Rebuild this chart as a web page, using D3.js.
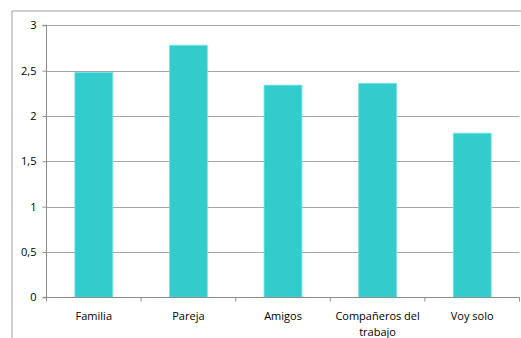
<!DOCTYPE html>
<html>
<head>
<meta charset="utf-8">
<script src="https://cdn.jsdelivr.net/npm/d3@7"></script>
<style>
  html, body { margin: 0; padding: 0; background: #fff; }
  svg { display: block; }
  text { font-family: "Open Sans", "Liberation Sans", sans-serif; fill: #000; }
</style>
</head>
<body>
<svg id="chart" width="521" height="338"></svg>
<script>
// Categories and values of the bar series
const categories = ["Familia", "Pareja", "Amigos", "Compañeros del trabajo", "Voy solo"];
const values = [2.48, 2.78, 2.34, 2.36, 1.81];
// Y axis ticks and their labels (decimal comma)
const yTicks = [0, 0.5, 1, 1.5, 2, 2.5, 3];
const yTickLabels = ["0", "0,5", "1", "1,5", "2", "2,5", "3"];
// Category labels split into lines
const categoryLines = [["Familia"], ["Pareja"], ["Amigos"], ["Compañeros del", "trabajo"], ["Voy solo"]];

const svg = d3.select("#chart");
const plotLeft = 46.5, plotRight = 519.5, plotTop = 25.3, plotBottom = 297.3;

// Outer frame (top and left edges visible)
svg.append("line").attr("x1", 12).attr("x2", 521).attr("y1", 11).attr("y2", 11)
  .attr("stroke", "#bfbfbf").attr("stroke-width", 1.5);
svg.append("line").attr("x1", 12).attr("x2", 12).attr("y1", 11).attr("y2", 338)
  .attr("stroke", "#bfbfbf").attr("stroke-width", 1.5);

const x = d3.scaleBand().domain(categories).range([plotLeft, plotRight]).paddingInner(0.6).paddingOuter(0.3);
const xOuter = d3.scaleBand().domain(categories).range([plotLeft, plotRight]);
const y = d3.scaleLinear().domain([0, 3]).range([plotBottom, plotTop]);

// Horizontal gridlines
svg.append("g").selectAll("line").data(yTicks.filter(d => d > 0)).join("line")
  .attr("x1", plotLeft).attr("x2", plotRight)
  .attr("y1", d => Math.round(y(d)) + 0.5).attr("y2", d => Math.round(y(d)) + 0.5)
  .attr("stroke", "#a6a6a6").attr("stroke-width", 1.2);

// Bars
svg.append("g").selectAll("rect").data(values).join("rect")
  .attr("x", (d, i) => x(categories[i]))
  .attr("width", x.bandwidth())
  .attr("y", d => y(d))
  .attr("height", d => y(0) - y(d))
  .attr("fill", "#33cccc")
  .attr("stroke", "#6fe3e3")
  .attr("stroke-width", 0.8);

// Y axis
const yAxis = d3.axisLeft(y).tickValues(yTicks).tickFormat((d, i) => yTickLabels[i])
  .tickSize(4).tickPadding(6);
const gy = svg.append("g").attr("transform", `translate(${plotLeft},0)`).call(yAxis);
gy.select(".domain").attr("stroke", "#8c8c8c").attr("d", `M-4,${plotTop}H0V${plotBottom}H-4`);
gy.selectAll(".tick line").attr("stroke", "#8c8c8c");
gy.selectAll(".tick text").style("font-size", "11px").attr("fill", "#000");

// X axis with boundary ticks between categories
const gx = svg.append("g").attr("transform", `translate(0,${Math.round(plotBottom) + 0.5})`);
gx.append("line").attr("x1", plotLeft).attr("x2", plotRight).attr("stroke", "#8c8c8c");
const bounds = categories.map(c => xOuter(c)).concat([plotRight]);
gx.selectAll("line.b").data(bounds).join("line").attr("class", "b")
  .attr("x1", d => d).attr("x2", d => d).attr("y1", 0).attr("y2", 4)
  .attr("stroke", "#8c8c8c");
gx.selectAll("text.lab").data(categoryLines).join("text").attr("class", "lab")
  .attr("x", (d, i) => xOuter(categories[i]) + xOuter.bandwidth() / 2)
  .attr("y", 22)
  .attr("text-anchor", "middle")
  .style("font-size", "11px")
  .each(function(lines) {
    const cx = d3.select(this).attr("x");
    d3.select(this).selectAll("tspan").data(lines).join("tspan")
      .attr("x", cx)
      .attr("dy", (l, j) => j === 0 ? 0 : 16)
      .text(l => l);
  });
</script>
</body>
</html>
